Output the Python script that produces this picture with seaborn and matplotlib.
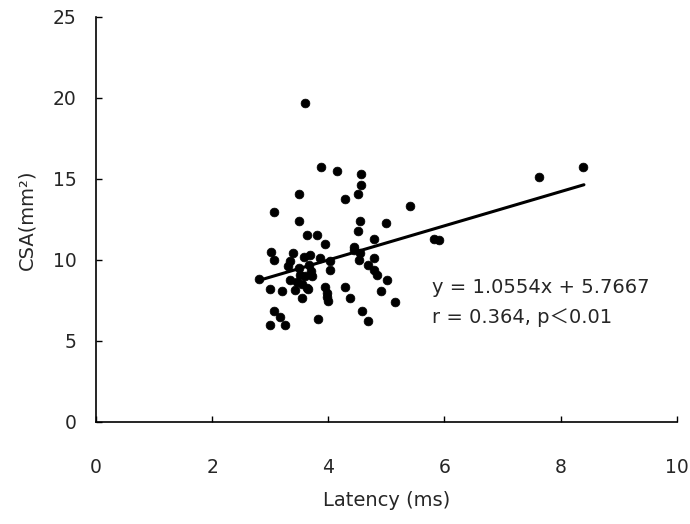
import numpy as np
import pandas as pd
import matplotlib
matplotlib.use('Agg')
import matplotlib.pyplot as plt
import seaborn as sns

# --- Data ---
latency = [3.60, 3.88, 4.15, 4.56, 4.56, 3.49, 4.51, 4.29, 5.40, 3.07,
           3.49, 4.55, 4.99, 4.51, 3.63, 3.80, 4.79, 3.95, 4.44, 5.82,
           5.90, 3.01, 3.06, 3.40, 3.69, 4.55, 4.78, 3.34, 3.86, 4.03,
           4.44, 4.52, 4.69, 3.49, 3.66, 4.03, 4.78, 4.84, 2.80, 3.52,
           3.72, 3.34, 5.01, 3.46, 2.99, 3.21, 3.43, 3.63, 3.95, 4.29,
           4.90, 3.55, 3.98, 3.99, 4.38, 5.14, 3.06, 3.17, 2.99, 3.26,
           3.82, 4.58, 4.69, 7.63, 8.39, 3.60, 3.55, 3.70, 3.65, 3.97,
           3.58, 3.30]
csa = [19.67, 15.72, 15.51, 15.30, 14.63, 14.06, 14.06, 13.77, 13.29, 12.92,
       12.41, 12.41, 12.26, 11.75, 11.50, 11.50, 11.28, 10.99, 10.82, 11.30,
       11.20, 10.51, 10.00, 10.41, 10.31, 10.41, 10.10, 9.90, 10.10, 9.90,
       10.62, 10.00, 9.69, 9.49, 9.69, 9.38, 9.38, 9.07, 8.81, 9.07,
       8.97, 8.77, 8.77, 8.66, 8.19, 8.10, 8.15, 8.25, 8.35, 8.31,
       8.10, 7.64, 7.94, 7.43, 7.64, 7.37, 6.87, 6.50, 5.99, 5.99,
       6.34, 6.81, 6.25, 15.08, 15.72, 9.00, 8.50, 9.30, 8.20, 7.70,
       10.20, 9.60]

slope = 1.0554
intercept = 5.7667
fit_x = [2.8, 8.4]

x_ticks = [0, 2, 4, 6, 8, 10]
y_ticks = [0, 5, 10, 15, 20, 25]

df = pd.DataFrame({'Latency': latency, 'CSA': csa})
fit = pd.DataFrame({'x': fit_x, 'y': [slope * v + intercept for v in fit_x]})

sns.set_style('ticks')
plt.rcParams['font.family'] = ['DejaVu Sans', 'Noto Sans CJK JP']

fig = plt.figure(figsize=(6.9, 5.24), dpi=100)
ax = fig.add_axes([0.139, 0.195, 0.842, 0.773])

sns.scatterplot(data=df, x='Latency', y='CSA', ax=ax, color='black',
                s=40, edgecolor='black', linewidth=0.5, zorder=3)
sns.lineplot(data=fit, x='x', y='y', ax=ax, color='black', linewidth=2.2,
             zorder=2)

ax.set_xlim(0, 10)
ax.set_ylim(0, 25)
ax.set_xticks(x_ticks)
ax.set_yticks(y_ticks)
ax.tick_params(axis='x', direction='in', length=4, width=1, pad=26,
               labelsize=13.5, color='black')
ax.tick_params(axis='y', direction='in', length=4, width=1, pad=14,
               labelsize=13.5, color='black')
sns.despine(ax=ax)
for sp in ('left', 'bottom'):
    ax.spines[sp].set_linewidth(1.2)
    ax.spines[sp].set_color('black')

ax.set_xlabel('Latency (ms)', fontsize=14, labelpad=10)
ax.set_ylabel('CSA(mm²)', fontsize=14, labelpad=12)

ax.text(5.79, 8.27, 'y = 1.0554x + 5.7667', fontsize=14, va='center')
ax.text(5.79, 6.42, 'r = 0.364, p＜0.01', fontsize=14, va='center')

fig.savefig('out.png', dpi=100)
